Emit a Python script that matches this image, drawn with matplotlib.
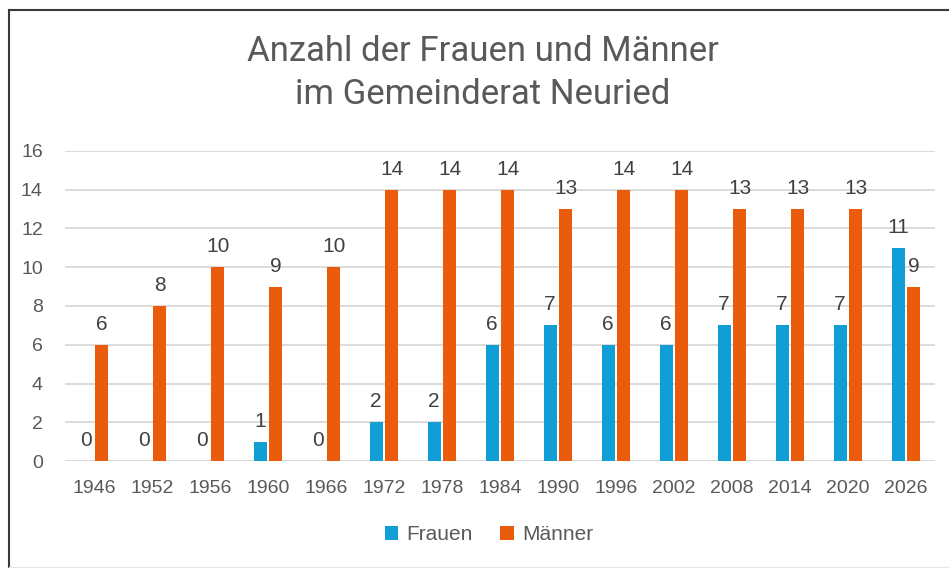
import numpy as np
import matplotlib.pyplot as plt
from matplotlib.lines import Line2D

years = ['1946', '1952', '1956', '1960', '1966', '1972', '1978', '1984',
         '1990', '1996', '2002', '2008', '2014', '2020', '2026']
frauen = [0, 0, 0, 1, 0, 2, 2, 6, 7, 6, 6, 7, 7, 7, 11]
maenner = [6, 8, 10, 9, 10, 14, 14, 14, 13, 14, 14, 13, 13, 13, 9]

blue = '#0f9ed5'
orange = '#ea5b0c'
grey = '#595959'

plt.rcParams['font.family'] = ['Liberation Sans', 'DejaVu Sans']

W, H = 949, 568
fig = plt.figure(figsize=(W / 100, H / 100), dpi=100)
ax = fig.add_axes([65 / W, 1 - 461 / H, 870 / W, 310 / H])

x = np.arange(len(years))
bw = 0.22
off = 0.135
b1 = ax.bar(x - off, frauen, bw, color=blue, label='Frauen', zorder=3)
b2 = ax.bar(x + off, maenner, bw, color=orange, label='Männer', zorder=3)

for bars in (b1, b2):
    ax.bar_label(bars, padding=8, fontsize=15, color='#404040')

ax.set_xlim(-0.5, len(years) - 0.5)
ax.set_ylim(0, 16)
ax.set_yticks(range(0, 17, 2))
ax.set_xticks(x)
ax.set_xticklabels(years)
ax.tick_params(axis='both', length=0, labelsize=14, colors=grey)
ax.tick_params(axis='y', pad=16)
ax.tick_params(axis='x', pad=14)
ax.grid(axis='y', color='#d9d9d9', linewidth=1.3, zorder=0)
for s in ax.spines.values():
    s.set_visible(False)

fig.text(483 / W, 1 - 73 / H, 'Anzahl der Frauen und Männer\nim Gemeinderat Neuried',
         ha='center', va='center', fontsize=25, color=grey, linespacing=1.36,
         family=['Roboto', 'DejaVu Sans'])

fig.legend(loc='center', bbox_to_anchor=(489 / W, 1 - 535 / H), ncol=2,
           frameon=False, fontsize=15, labelcolor=grey, handlelength=0.65,
           handleheight=0.65, handletextpad=0.4, columnspacing=1.3)

# frame lines at top and left edge
fig.add_artist(Line2D([9 / W, 1], [1 - 10 / H, 1 - 10 / H], transform=fig.transFigure,
                      color='#3a3a3a', linewidth=1.5))
fig.add_artist(Line2D([9 / W, 9 / W], [0, 1 - 10 / H], transform=fig.transFigure,
                      color='#3a3a3a', linewidth=1.5))
fig.add_artist(Line2D([9 / W, 1], [1 / H, 1 / H], transform=fig.transFigure,
                      color='#e6e6e6', linewidth=1))

fig.savefig('out.png', dpi=100)
